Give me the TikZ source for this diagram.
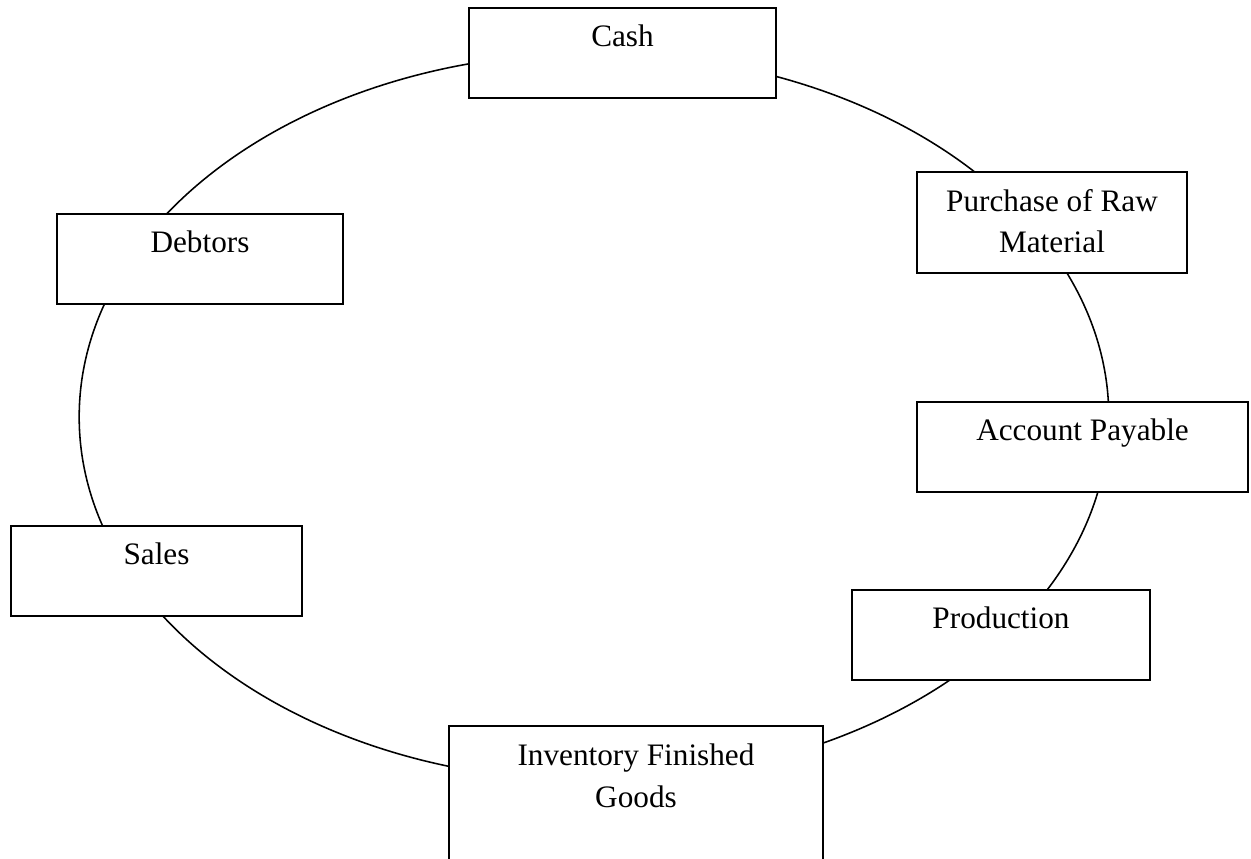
\documentclass[tikz,border=0pt]{standalone}
\usepackage{fontspec}
\setmainfont{Liberation Serif}
\begin{document}
\begin{tikzpicture}[scale=1.0,
  stage/.style={draw, line width=0.8pt, fill=white, inner sep=0pt, minimum height=1.215cm},
  stagetext/.style={anchor=base, align=center, inner sep=0pt, font=\fontsize{12}{16.1}\selectfont}]
\useasboundingbox (-8.019,-5.9535) rectangle (8.8695,5.6295);
\clip (-8.019,-5.9535) rectangle (8.8695,5.6295);
% the cycle
\draw[line width=0.6pt] (0,0) ellipse (6.95 and 4.914);
% boxes
\node[stage, minimum width=4.145cm] (cash) at (0.385,4.914) {};
\node[stage, minimum width=3.645cm, minimum height=1.364cm] (purchase) at (6.183,2.626) {};
\node[stage, minimum width=4.469cm] (payable) at (6.595,-0.405) {};
\node[stage, minimum width=4.023cm] (production) at (5.495,-2.943) {};
\node[stage, minimum width=5.049cm, minimum height=1.89cm] (inventory) at (0.567,-5.117) {};
\node[stage, minimum width=3.929cm] (sales) at (-5.906,-2.079) {};
\node[stage, minimum width=3.861cm] (debtors) at (-5.319,2.133) {};
% labels (two-line ones sit on their last line)
\node[stagetext] (cashtext) at ([yshift=-0.54cm]cash.north) {Cash};
\node[stagetext] (purchasetext) at ([yshift=-1.108cm]purchase.north) {Purchase of Raw\\Material};
\node[stagetext] (payabletext) at ([yshift=-0.54cm]payable.north) {Account Payable};
\node[stagetext] (productiontext) at ([yshift=-0.54cm]production.north) {Production};
\node[stagetext] (inventorytext) at ([yshift=-1.108cm]inventory.north) {Inventory Finished\\Goods};
\node[stagetext] (salestext) at ([yshift=-0.54cm]sales.north) {Sales};
\node[stagetext] (debtorstext) at ([yshift=-0.54cm]debtors.north) {Debtors};
\end{tikzpicture}
\end{document}
